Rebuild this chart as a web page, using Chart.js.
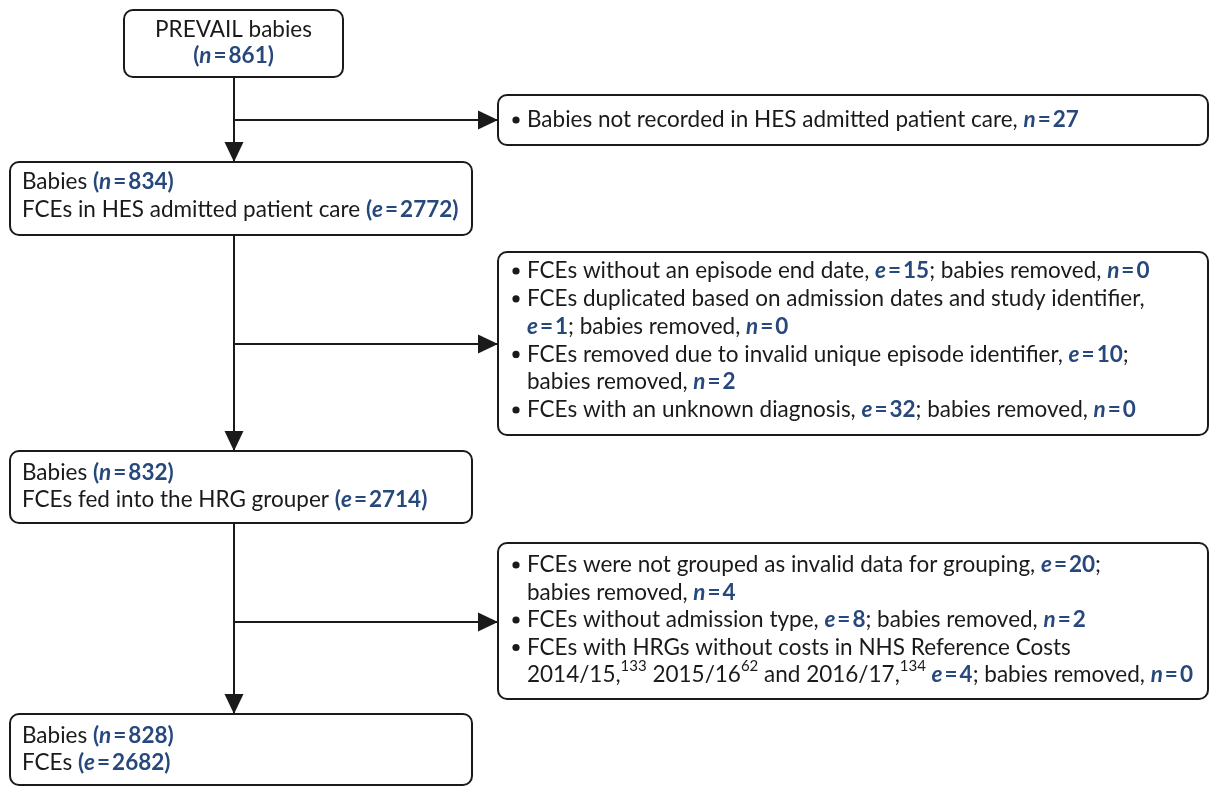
<!DOCTYPE html>
<html>
<head>
<meta charset="utf-8">
<script src="https://cdn.jsdelivr.net/npm/chart.js@4.4.1/dist/chart.umd.min.js"></script>
<style>
	html, body { margin: 0; padding: 0; background: #fff; }
	#wrap { width: 1210px; height: 787px; position: relative; }
</style>
</head>
<body>
<div id="wrap"><canvas id="fluxo"></canvas></div>
<script>
// Values of the flow (babies n, episodes e)
var babies = [861, 834, 832, 828];
var episodes = [null, 2772, 2714, 2682];

// Text of the main boxes ({N} = (n = ..), {E} = (e = ..))
var mainText = [
	["PREVAIL babies", "{N}"],
	["Babies {N}", "FCEs in HES admitted patient care {E}"],
	["Babies {N}", "FCEs fed into the HRG grouper {E}"],
	["Babies {N}", "FCEs {E}"],
];

// Exclusions at each step ({e} / {n} = value, | = line break, ^x^ = superscript)
var step1Text = ["Babies not recorded in HES admitted patient care, {n}"];
var step1E = [null];
var step1N = [27];

var step2Text = [
	"FCEs without an episode end date, {e}; babies removed, {n}",
	"FCEs duplicated based on admission dates and study identifier,|{e}; babies removed, {n}",
	"FCEs removed due to invalid unique episode identifier, {e};|babies removed, {n}",
	"FCEs with an unknown diagnosis, {e}; babies removed, {n}",
];
var step2E = [15, 1, 10, 32];
var step2N = [0, 0, 2, 0];

var step3Text = [
	"FCEs were not grouped as invalid data for grouping, {e};|babies removed, {n}",
	"FCEs without admission type, {e}; babies removed, {n}",
	"FCEs with HRGs without costs in NHS Reference Costs|2014/15,^133^ 2015/16^62^ and 2016/17,^134^ {e}; babies removed, {n}",
];
var step3E = [20, 8, 4];
var step3N = [4, 2, 0];

var sideText = [step1Text, step2Text, step3Text];
var sideE = [step1E, step2E, step3E];
var sideN = [step1N, step2N, step3N];

// Layout (page units = pixels of the 1210x787 figure)
var mainBoxes = [
	{ x: 124, y: 10, w: 219, h: 67, center: true, top: 20, step: 26 },
	{ x: 10, y: 162, w: 462, h: 73, top: 20, step: 28 },
	{ x: 10, y: 451, w: 462, h: 72, top: 22, step: 27 },
	{ x: 10, y: 714, w: 462, h: 71, top: 22, step: 27 },
];
var sideBoxes = [
	{ x: 498, y: 95, w: 710, h: 50, top: 25, step: 27.5 },
	{ x: 498, y: 252, w: 710, h: 183, top: 19, step: 27.8 },
	{ x: 498, y: 543, w: 710, h: 156, top: 22, step: 27.5 },
];
var trunkX = 234;
var branchY = [120, 344, 622];

var corFonte = "#1a1a1a";
var corAzul = "#27487c";
var tamFonte = 22.5;

// Connector lines built from the layout
var datasets = [];
for (var i = 0; i < 3; i++) {
	datasets.push({
		data: [
			{ x: trunkX, y: mainBoxes[i].y + mainBoxes[i].h },
			{ x: trunkX, y: mainBoxes[i + 1].y },
		],
	});
	datasets.push({
		data: [
			{ x: trunkX, y: branchY[i] },
			{ x: sideBoxes[i].x, y: branchY[i] },
		],
	});
}
datasets.forEach(function (d) {
	d.showLine = true;
	d.borderColor = corFonte;
	d.borderWidth = 2;
	d.pointRadius = 0;
	d.fill = false;
});

// Split a template into segments
function parseText(tpl, n, e) {
	var lines = [];
	tpl.split("|").forEach(function (linha) {
		var segs = [];
		var parts = linha.split(/(\{N\}|\{E\}|\{n\}|\{e\}|\^\d+\^)/);
		parts.forEach(function (p) {
			if (p === "") return;
			if (p === "{N}") segs.push({ k: "tok", v: "n", num: n, par: true });
			else if (p === "{E}") segs.push({ k: "tok", v: "e", num: e, par: true });
			else if (p === "{n}") segs.push({ k: "tok", v: "n", num: n, par: false });
			else if (p === "{e}") segs.push({ k: "tok", v: "e", num: e, par: false });
			else if (p[0] === "^") segs.push({ k: "sup", t: p.slice(1, -1) });
			else segs.push({ k: "txt", t: p });
		});
		lines.push(segs);
	});
	return lines;
}

function fontR() { return tamFonte + "px Lato"; }
function fontB() { return "bold " + tamFonte + "px Lato"; }
function fontBI() { return "italic bold " + tamFonte + "px Lato"; }

// Draw (or only measure) one line of segments, returns width
function drawLine(ctx, segs, x, y, draw) {
	var cx = x;
	function put(t, font, color, dy) {
		ctx.font = font;
		if (draw) {
			ctx.fillStyle = color;
			ctx.fillText(t, cx, y + (dy || 0));
		}
		cx += ctx.measureText(t).width;
	}
	segs.forEach(function (s) {
		if (s.k === "txt") put(s.t, fontR(), corFonte);
		else if (s.k === "sup") put(s.t, "15px Lato", corFonte, -9);
		else {
			if (s.par) put("(", fontB(), corAzul);
			put(s.v, fontBI(), corAzul);
			cx += 2;
			put("=", fontB(), corAzul);
			cx += 2;
			put(String(s.num), fontB(), corAzul);
			if (s.par) put(")", fontB(), corAzul);
		}
	});
	return cx - x;
}

function roundBox(ctx, x, y, w, h, r) {
	ctx.beginPath();
	ctx.moveTo(x + r, y);
	ctx.lineTo(x + w - r, y);
	ctx.arcTo(x + w, y, x + w, y + r, r);
	ctx.lineTo(x + w, y + h - r);
	ctx.arcTo(x + w, y + h, x + w - r, y + h, r);
	ctx.lineTo(x + r, y + h);
	ctx.arcTo(x, y + h, x, y + h - r, r);
	ctx.lineTo(x, y + r);
	ctx.arcTo(x, y, x + r, y, r);
	ctx.closePath();
}

var fluxoPlugin = {
	id: "fluxo",
	afterDatasetsDraw: function (chart) {
		var ctx = chart.ctx;
		var sx = chart.scales.x;
		var sy = chart.scales.y;
		ctx.save();

		// arrowheads at the end of every connector
		chart.data.datasets.forEach(function (d) {
			var a = d.data[d.data.length - 2];
			var b = d.data[d.data.length - 1];
			var x1 = sx.getPixelForValue(a.x), y1 = sy.getPixelForValue(a.y);
			var x2 = sx.getPixelForValue(b.x), y2 = sy.getPixelForValue(b.y);
			var ang = Math.atan2(y2 - y1, x2 - x1);
			var len = 20, half = 9.5;
			ctx.fillStyle = corFonte;
			ctx.beginPath();
			ctx.moveTo(x2, y2);
			ctx.lineTo(x2 - len * Math.cos(ang) + half * Math.sin(ang), y2 - len * Math.sin(ang) - half * Math.cos(ang));
			ctx.lineTo(x2 - len * Math.cos(ang) - half * Math.sin(ang), y2 - len * Math.sin(ang) + half * Math.cos(ang));
			ctx.closePath();
			ctx.fill();
		});

		// boxes
		function caixa(bx) {
			var x = sx.getPixelForValue(bx.x);
			var y = sy.getPixelForValue(bx.y);
			var w = sx.getPixelForValue(bx.x + bx.w) - x;
			var h = sy.getPixelForValue(bx.y + bx.h) - y;
			ctx.fillStyle = "#fff";
			roundBox(ctx, x, y, w, h, 9);
			ctx.fill();
			ctx.strokeStyle = corFonte;
			ctx.lineWidth = 2;
			ctx.stroke();
			return { x: x, y: y, w: w, h: h };
		}

		ctx.textBaseline = "middle";
		ctx.textAlign = "left";

		mainBoxes.forEach(function (bx, i) {
			var p = caixa(bx);
			var ly = p.y + bx.top;
			mainText[i].forEach(function (tpl) {
				var lines = parseText(tpl, babies[i], episodes[i]);
				lines.forEach(function (segs) {
					var x = p.x + 12;
					if (bx.center) {
						var w = drawLine(ctx, segs, 0, 0, false);
						x = p.x + (p.w - w) / 2;
					}
					drawLine(ctx, segs, x, ly, true);
					ly += bx.step;
				});
			});
		});

		sideBoxes.forEach(function (bx, i) {
			var p = caixa(bx);
			var ly = p.y + bx.top;
			sideText[i].forEach(function (tpl, j) {
				var lines = parseText(tpl, sideN[i][j], sideE[i][j]);
				lines.forEach(function (segs, k) {
					if (k === 0) {
						ctx.fillStyle = corFonte;
						ctx.beginPath();
						ctx.arc(p.x + 18, ly, 3.6, 0, Math.PI * 2);
						ctx.fill();
					}
					drawLine(ctx, segs, p.x + 29, ly, true);
					ly += bx.step;
				});
			});
		});

		ctx.restore();
	},
};

var grafico = new Chart(document.getElementById("fluxo"), {
	type: "scatter",
	data: { datasets: datasets },
	options: {
		responsive: true,
		maintainAspectRatio: false,
		animation: false,
		events: [],
		layout: { padding: 0 },
		plugins: { legend: { display: false }, tooltip: { enabled: false } },
		scales: {
			x: { type: "linear", min: 0, max: 1210, display: false },
			y: { type: "linear", min: 0, max: 787, reverse: true, display: false },
		},
	},
	plugins: [fluxoPlugin],
});
</script>
</body>
</html>
